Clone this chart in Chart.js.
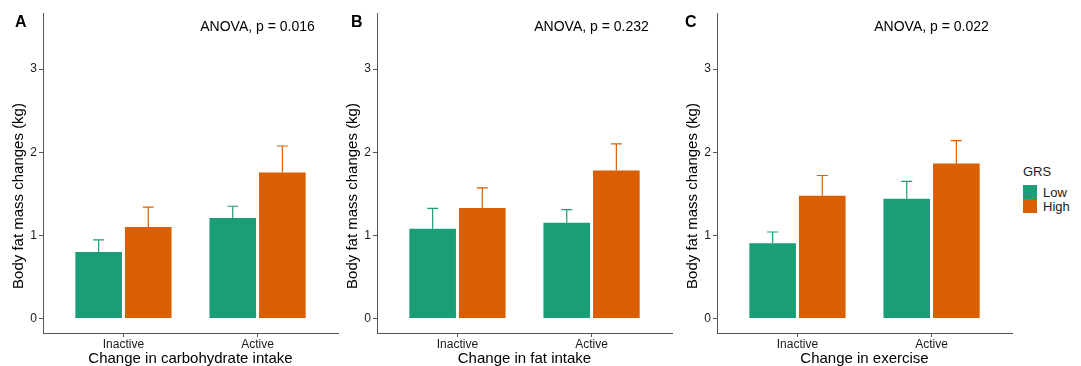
<!DOCTYPE html>
<html>
<head>
<meta charset="utf-8">
<script src="https://cdn.jsdelivr.net/npm/chart.js@4"></script>
<style>
  body { margin: 0; background: #fff; font-family: "Liberation Sans", Arial, sans-serif; }
  #wrap { position: relative; width: 1081px; height: 366px; overflow: hidden; }
  .panel { position: absolute; top: 0; }
  .letter { position: absolute; top: 13px; font-weight: bold; font-size: 16px; color: #000; }
  .legend { position: absolute; left: 1023px; top: 164px; font-size: 13px; color: #1a1a1a; }
  .legend .row { display: flex; align-items: center; height: 14px; }
  .legend .sw { width: 14px; height: 14px; margin-right: 6px; }
</style>
</head>
<body>
<div id="wrap">
  <canvas class="panel" id="panel0" width="340" height="366" style="left:0px"></canvas>
  <canvas class="panel" id="panel1" width="340" height="366" style="left:334px"></canvas>
  <canvas class="panel" id="panel2" width="340" height="366" style="left:674px"></canvas>
  <div class="letter" style="left:15px">A</div>
  <div class="letter" style="left:351px">B</div>
  <div class="letter" style="left:685px">C</div>
  <div class="legend" id="legend"></div>
</div>
<script>
  /* Data */
  var categories = ['Inactive', 'Active'];
  var groups = ['Low', 'High'];
  var groupColors = ['#1B9E77', '#D95F02'];
  var xTitles = ['Change in carbohydrate intake', 'Change in fat intake', 'Change in exercise'];
  var pLabels = ['ANOVA, p = 0.016', 'ANOVA, p = 0.232', 'ANOVA, p = 0.022'];
  var yTicks = [0, 1, 2, 3];

  // mean change per panel: [Inactive, Active]
  var lowMeans  = [[0.80, 1.21], [1.08, 1.15], [0.905, 1.44]];
  var highMeans = [[1.10, 1.755], [1.33, 1.78], [1.475, 1.865]];
  // upper end of error bars
  var lowUpper  = [[0.945, 1.35], [1.325, 1.31], [1.04, 1.65]];
  var highUpper = [[1.34, 2.075], [1.57, 2.10], [1.72, 2.14]];

  var FONT = '"Liberation Sans", Arial, sans-serif';
  var AXIS = '#555555';

  /* Error bars */
  var errorBars = {
    id: 'errorBars',
    afterDatasetsDraw: function(chart) {
      var ctx = chart.ctx;
      var yScale = chart.scales.y;
      chart.data.datasets.forEach(function(ds, i) {
        var meta = chart.getDatasetMeta(i);
        meta.data.forEach(function(bar, j) {
          var top = yScale.getPixelForValue(ds.upper[j]);
          ctx.save();
          ctx.strokeStyle = ds.backgroundColor;
          ctx.lineWidth = 1.2;
          ctx.beginPath();
          ctx.moveTo(bar.x, bar.y);
          ctx.lineTo(bar.x, top);
          ctx.moveTo(bar.x - 5.5, top);
          ctx.lineTo(bar.x + 5.5, top);
          ctx.stroke();
          ctx.restore();
        });
      });
    }
  };

  /* ANOVA label + y title */
  var annotate = {
    id: 'annotate',
    afterDraw: function(chart) {
      var ctx = chart.ctx;
      var o = chart.options.plugins.annotate;
      ctx.save();
      ctx.fillStyle = '#000';
      ctx.font = '14px ' + FONT;
      ctx.textAlign = 'center';
      ctx.textBaseline = 'middle';
      ctx.fillText(o.text, chart.scales.x.getPixelForValue(2), chart.scales.y.getPixelForValue(3.5));
      ctx.font = '15px ' + FONT;
      ctx.translate(19, 196);
      ctx.rotate(-Math.PI / 2);
      ctx.fillText('Body fat mass changes (kg)', 0, 0);
      ctx.restore();
    }
  };

  function makePanel(p) {
    var ctx = document.getElementById('panel' + p).getContext('2d');
    new Chart(ctx, {
      type: 'bar',
      data: {
        datasets: [
          {
            label: groups[0],
            data: categories.map(function(c, i) { return { x: i + 1, y: lowMeans[p][i] }; }),
            upper: lowUpper[p],
            backgroundColor: groupColors[0]
          },
          {
            label: groups[1],
            data: categories.map(function(c, i) { return { x: i + 1, y: highMeans[p][i] }; }),
            upper: highUpper[p],
            backgroundColor: groupColors[1]
          }
        ]
      },
      options: {
        responsive: false,
        animation: false,
        categoryPercentage: 0.74,
        barPercentage: 0.94,
        layout: { padding: { top: 13, right: 2, left: 0, bottom: 0 } },
        plugins: {
          legend: { display: false },
          tooltip: { enabled: false },
          annotate: { text: pLabels[p] }
        },
        scales: {
          x: {
            type: 'linear',
            offset: false,
            min: 0.4,
            max: 2.6,
            afterBuildTicks: function(s) {
              s.ticks = categories.map(function(c, i) { return { value: i + 1 }; });
            },
            afterFit: function(s) { s.height = 33; },
            ticks: {
              autoSkip: false,
              maxRotation: 0,
              padding: 0,
              color: '#1a1a1a',
              font: { family: FONT, size: 12 },
              callback: function(v) { return categories[v - 1]; }
            },
            grid: { offset: false, drawOnChartArea: false, drawTicks: true, tickLength: 4, color: AXIS },
            border: { display: true, color: AXIS, width: 1 },
            title: {
              display: true,
              text: xTitles[p],
              color: '#000',
              font: { family: FONT, size: 15 },
              padding: { top: 0, bottom: -2 }
            }
          },
          y: {
            min: -0.175,
            max: 3.675,
            afterBuildTicks: function(s) {
              s.ticks = yTicks.map(function(v) { return { value: v }; });
            },
            afterFit: function(s) { s.width = 43; },
            ticks: {
              padding: 2,
              color: '#1a1a1a',
              font: { family: FONT, size: 12 }
            },
            grid: { drawOnChartArea: false, drawTicks: true, tickLength: 4, color: AXIS },
            border: { display: true, color: AXIS, width: 1 }
          }
        }
      },
      plugins: [errorBars, annotate]
    });
  }

  window.addEventListener('DOMContentLoaded', function () {
    for (var p = 0; p < 3; p++) makePanel(p);

    /* Legend */
    var lg = document.getElementById('legend');
    var html = '<div style="margin-bottom:6px">GRS</div>';
    groups.forEach(function(g, i) {
      html += '<div class="row"><div class="sw" style="background:' + groupColors[i] + '"></div>' + g + '</div>';
    });
    lg.innerHTML = html;
  });
</script>
</body>
</html>
